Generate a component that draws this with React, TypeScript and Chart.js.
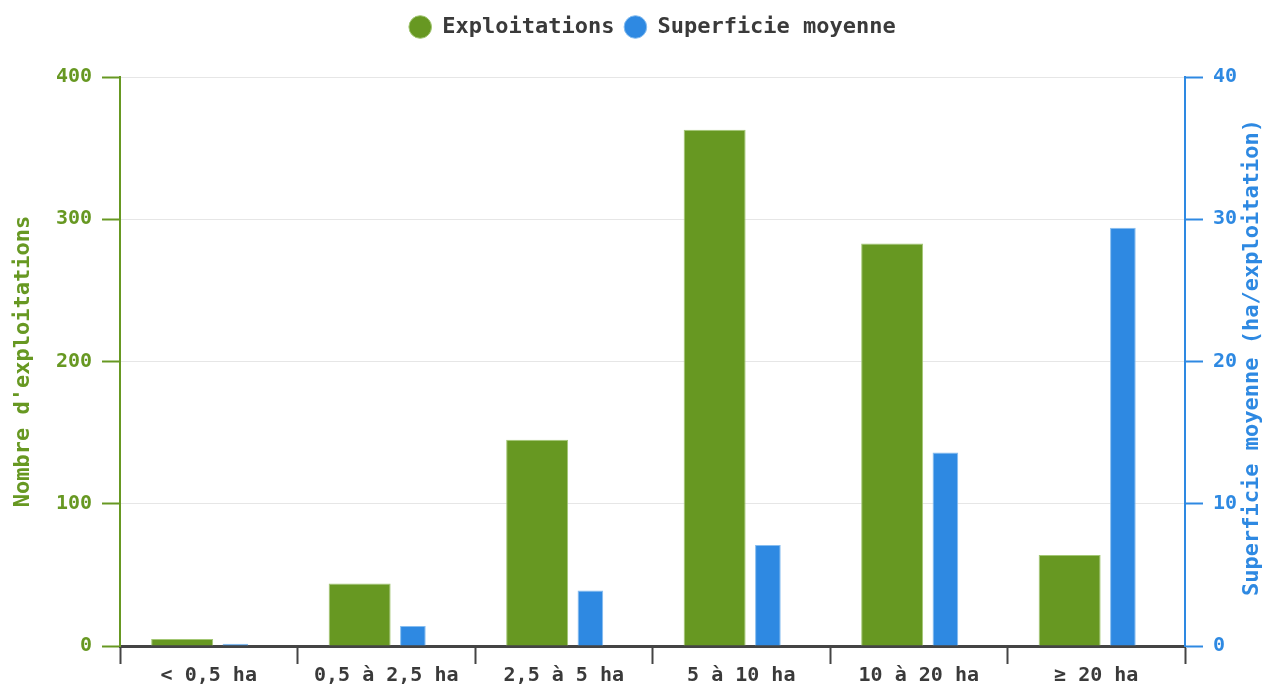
import React, { useEffect, useRef } from 'react';
import { Chart, registerables } from 'chart.js';

Chart.register(...registerables);

const categories = ['< 0,5 ha', '0,5 à 2,5 ha', '2,5 à 5 ha', '5 à 10 ha', '10 à 20 ha', '≥ 20 ha'];
const exploitations = [5, 44, 145, 363, 283, 64];
const superficieMoyenne = [0.15, 1.4, 3.9, 7.1, 13.6, 29.4];
const seriesNames = ['Exploitations', 'Superficie moyenne'];
const leftTitle = "Nombre d'exploitations";
const rightTitle = 'Superficie moyenne (ha/exploitation)';
const leftMax = 400;
const leftStep = 100;
const rightMax = 40;
const rightStep = 10;

const GREEN = '#679822';
const BLUE = '#2e89e2';
const DARK = '#3a3a3a';
const FONT = '"DejaVu Sans Mono", "Liberation Mono", monospace';

const legendSpacing = {
  id: 'legendSpacing',
  beforeInit(chart: any) {
    const legend = chart.legend;
    if (!legend) return;
    const orig = legend.fit;
    legend.fit = function () {
      orig.call(this);
      this.height += 29;
    };
  },
};

const rightTitlePlugin = {
  id: 'rightTitlePlugin',
  afterDraw(chart: any) {
    const s = chart.scales.y1;
    if (!s) return;
    const ctx = chart.ctx;
    ctx.save();
    ctx.font = `bold 22px ${FONT}`;
    ctx.fillStyle = BLUE;
    ctx.textAlign = 'center';
    ctx.textBaseline = 'middle';
    ctx.translate(chart.width - 11, (s.top + s.bottom) / 2 - 4);
    ctx.rotate(-Math.PI / 2);
    ctx.fillText(rightTitle, 0, 0);
    ctx.restore();
  },
};

export default function App() {
  const ref = useRef<HTMLCanvasElement | null>(null);

  useEffect(() => {
    if (!ref.current) return;
    const chart = new Chart(ref.current, {
      type: 'bar',
      data: {
        labels: categories,
        datasets: [
          {
            label: seriesNames[0],
            data: exploitations,
            yAxisID: 'y',
            backgroundColor: GREEN,
            borderColor: '#a3c774',
            borderWidth: 1,
            categoryPercentage: 0.6,
            barPercentage: 1.164,
          },
          {
            label: seriesNames[1],
            data: superficieMoyenne,
            yAxisID: 'y1',
            backgroundColor: BLUE,
            borderColor: '#86bdf0',
            borderWidth: 1,
            categoryPercentage: 0.6,
            barPercentage: 0.482,
          },
        ],
      },
      options: {
        animation: false,
        responsive: true,
        maintainAspectRatio: false,
        layout: { padding: { top: 6, left: 6, right: -10.5, bottom: -4 } },
        plugins: {
          tooltip: { enabled: false },
          legend: {
            position: 'top',
            fullSize: false,
            labels: {
              usePointStyle: true,
              pointStyle: 'circle',
              boxHeight: 16,
              color: DARK,
              padding: 10,
              font: { family: FONT, size: 22, weight: 'bold' },
            },
          },
        },
        scales: {
          x: {
            offset: true,
            grid: {
              drawOnChartArea: false,
              drawTicks: true,
              tickLength: 18,
              tickColor: '#444',
              tickWidth: 2,
              offset: true,
            },
            border: { display: true, color: '#444', width: 3 },
            ticks: {
              color: DARK,
              padding: 2,
              font: { family: FONT, size: 20, weight: 'bold', lineHeight: 1 },
            },
          },
          y: {
            position: 'left',
            min: 0,
            max: leftMax,
            ticks: {
              stepSize: leftStep,
              color: GREEN,
              padding: 10,
              font: { family: FONT, size: 20, weight: 'bold' },
            },
            grid: {
              color: '#e6e6e6',
              lineWidth: 1,
              tickLength: 18,
              tickColor: GREEN,
              tickWidth: 2,
            },
            border: { display: true, color: GREEN, width: 2 },
            title: {
              display: true,
              text: leftTitle,
              color: GREEN,
              padding: { top: 4, bottom: 9.5 },
              font: { family: FONT, size: 22, weight: 'bold' },
            },
          },
          y1: {
            position: 'right',
            min: 0,
            max: rightMax,
            ticks: {
              stepSize: rightStep,
              color: BLUE,
              padding: 10,
              font: { family: FONT, size: 20, weight: 'bold' },
            },
            grid: {
              drawOnChartArea: false,
              tickLength: 18,
              tickColor: BLUE,
              tickWidth: 2,
            },
            border: { display: true, color: BLUE, width: 2 },
            title: {
              display: true,
              text: rightTitle,
              color: 'rgba(0,0,0,0)',
              padding: { top: 0, bottom: 0 },
              font: { family: FONT, size: 22, weight: 'bold' },
            },
          },
        },
      },
      plugins: [legendSpacing, rightTitlePlugin],
    } as any);
    return () => chart.destroy();
  }, []);

  return (
    <div style={{ position: 'fixed', left: 0, top: 0, width: '1263px', height: '684px', background: '#fff' }}>
      <canvas ref={ref} />
    </div>
  );
}
